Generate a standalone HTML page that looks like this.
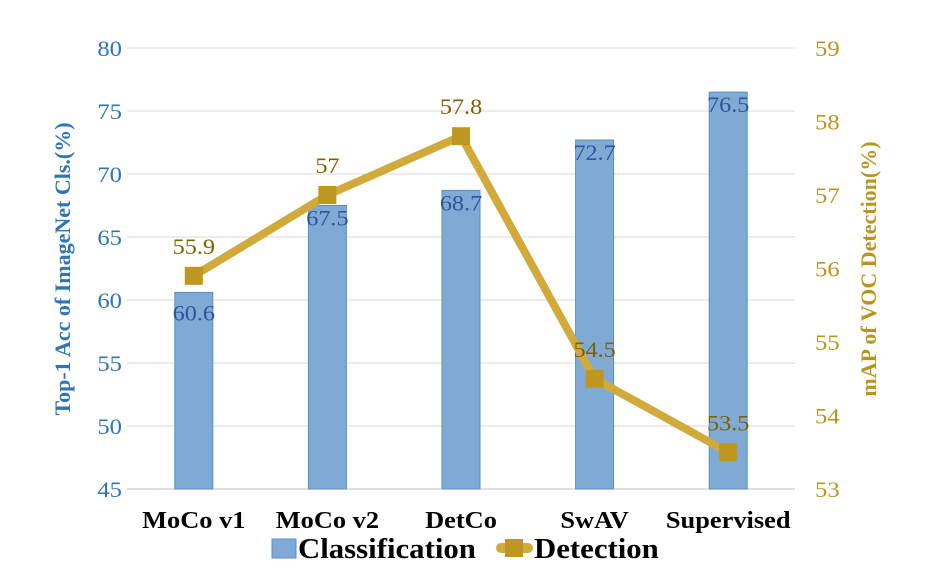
<!DOCTYPE html>
<html><head><meta charset="utf-8"><style>
body{margin:0;background:#fff}
svg text{font-family:"Liberation Serif",serif}
</style></head><body>
<svg id="c" width="952" height="574"></svg>
<script>
const categories=["MoCo v1","MoCo v2","DetCo","SwAV","Supervised"];
const clsValues=[60.6,67.5,68.7,72.7,76.5];
const detValues=[55.9,57,57.8,54.5,53.5];
const leftTicks=[45,50,55,60,65,70,75,80];
const rightTicks=[53,54,55,56,57,58,59];
const NS="http://www.w3.org/2000/svg";
const svg=document.getElementById('c');
const x0=127,x1=795,yTop=48,yBot=489;
const band=(x1-x0)/categories.length;
const xc=i=>x0+band*(i+0.5);
const yL=v=>yBot-(v-45)/35*(yBot-yTop);
const yR=v=>yBot-(v-53)/6*(yBot-yTop);
function el(t,a,txt){const e=document.createElementNS(NS,t);for(const k in a)e.setAttribute(k,a[k]);if(txt!==undefined)e.textContent=txt;svg.appendChild(e);return e;}
function tx(x,y,s,a,txt){a.transform='translate('+x+','+y+') scale('+s+',1)';a.x=0;a.y=0;return el('text',a,txt);}
leftTicks.forEach(v=>{
 const g=el('line',{x1:x0,x2:x1,y1:yL(v),y2:yL(v),stroke:v===45?'#bfbfbf':'#d9d9d9','stroke-width':1});
 
 
 const t=tx(122,yL(v)+8,1.12,{'text-anchor':'end','font-size':22,fill:'#2e75b6'},v);
 
 
});
rightTicks.forEach(v=>{
 const t=tx(815,yR(v)+8,1.12,{'font-size':22,fill:'#b8961e'},v);
 
 
});
clsValues.forEach((v,i)=>{
 const b=el('rect',{x:xc(i)-19,y:yL(v),width:38,height:yBot-yL(v),fill:'#80aad6',stroke:'#5b8fc4','stroke-width':1});
 
 
 const t=tx(xc(i),yL(v)+(i===0?28:20),1.1,{'text-anchor':'middle','font-size':22,fill:'#2f5597'},v);
 
 
 const c=tx(xc(i),528,1.1,{'text-anchor':'middle','font-size':24,'font-weight':'bold',fill:'#000'},categories[i]);
 
 
});
const line=el('polyline',{points:detValues.map((v,i)=>xc(i)+','+yR(v)).join(' '),fill:'none',stroke:'#d1aa3c','stroke-width':8,'stroke-linejoin':'round'});


detValues.forEach((v,i)=>{
 const m=el('rect',{x:xc(i)-9,y:yR(v)-9,width:18,height:18,fill:'#bf9620'});
 
 
 const t=tx(xc(i),yR(v)-22,1.1,{'text-anchor':'middle','font-size':22,fill:'#7f6000'},v);
 
 
});
const lt=el('text',{transform:'translate(70,269) rotate(-90)','text-anchor':'middle','font-size':22,'font-weight':'bold',fill:'#2e75b6'},'Top-1 Acc of ImageNet  Cls.(%)');


const rt=el('text',{transform:'translate(876,269) rotate(-90)','text-anchor':'middle','font-size':22,'font-weight':'bold',fill:'#b8961e'},'mAP of VOC  Detection(%)');


const l1=el('rect',{x:272,y:539,width:24,height:19,fill:'#80aad6',stroke:'#5b8fc4'});


const l1t=tx(298,558,1.1,{'font-size':28,'font-weight':'bold',fill:'#000'},'Classification');


const l2=el('line',{x1:501,x2:528,y1:548,y2:548,stroke:'#d1aa3c','stroke-width':10,'stroke-linecap':'round'});


const l2m=el('rect',{x:505,y:539,width:18,height:18,fill:'#bf9620'});


const l2t=tx(534,558,1.1,{'font-size':28,'font-weight':'bold',fill:'#000'},'Detection');


</script>
</body></html>
